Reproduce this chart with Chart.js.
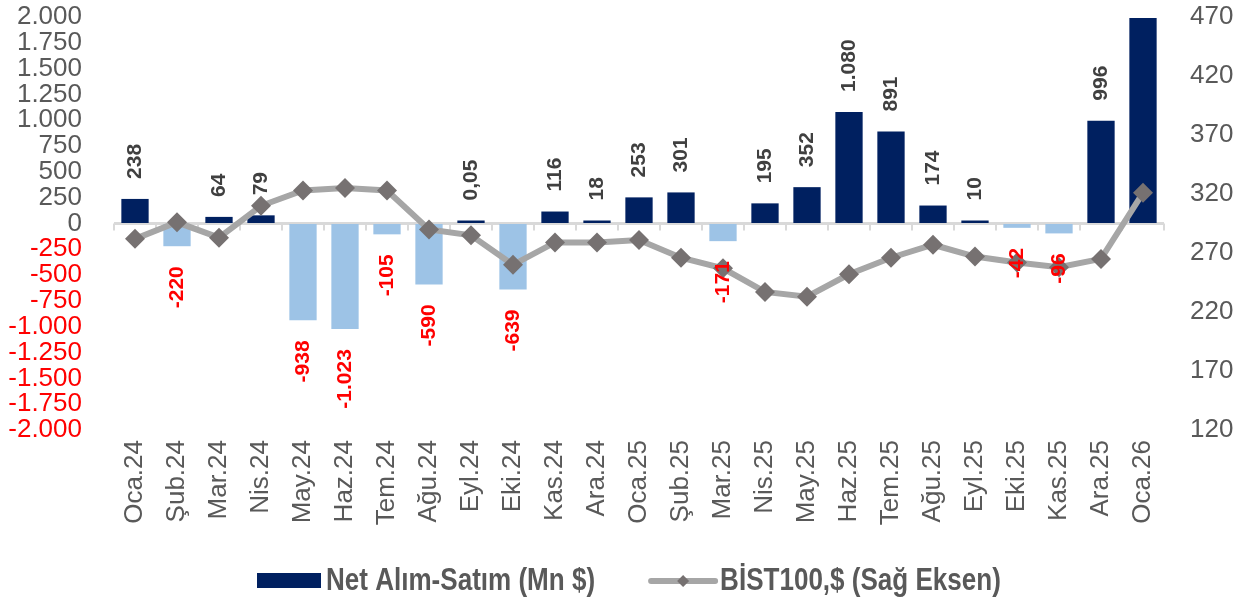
<!DOCTYPE html>
<html lang="tr">
<head>
<meta charset="utf-8">
<title>Net Alım-Satım ve BİST100</title>
<script src="https://cdn.jsdelivr.net/npm/chart.js@4.4.1/dist/chart.umd.min.js"></script>
<style>
  html, body { margin: 0; padding: 0; background: #fff; }
</style>
</head>
<body>
<canvas id="grafik" width="1258" height="598"></canvas>
<script>
// Aylar ve seriler
const aylar = ['Oca.24', 'Şub.24', 'Mar.24', 'Nis.24', 'May.24', 'Haz.24', 'Tem.24', 'Ağu.24',
  'Eyl.24', 'Eki.24', 'Kas.24', 'Ara.24', 'Oca.25', 'Şub.25', 'Mar.25', 'Nis.25', 'May.25',
  'Haz.25', 'Tem.25', 'Ağu.25', 'Eyl.25', 'Eki.25', 'Kas.25', 'Ara.25', 'Oca.26'];
const netAlimSatim = [238, -220, 64, 79, -938, -1023, -105, -590, 0.05, -639, 116, 18, 253, 301,
  -171, 195, 352, 1080, 891, 174, 10, -42, -96, 996, 1990];
const bist100Usd = [282, 296, 283, 310, 323, 325, 323, 290, 285, 260, 279, 279, 281, 266,
  257, 237, 233, 252, 266, 277, 267, 262, 258, 265, 321];

// Eksen etiketleri
const solEksen = [-2000, -1750, -1500, -1250, -1000, -750, -500, -250, 0, 250, 500, 750, 1000,
  1250, 1500, 1750, 2000];
const sagEksen = [120, 170, 220, 270, 320, 370, 420, 470];

const LACIVERT = '#002060';
const ACIK_MAVI = '#9DC3E6';
const GRI_YAZI = '#595959';
const KIRMIZI = '#FF0000';
const FONT = '"Liberation Sans", Arial, sans-serif';

Chart.defaults.font.family = FONT;

// 1.080 / -1.023 / 0,05 gibi
function trSayi(v) {
  const abs = Math.abs(v);
  let s;
  if (Number.isInteger(abs)) s = String(abs).replace(/\B(?=(\d{3})+(?!\d))/g, '.');
  else s = abs.toFixed(2).replace('.', ',');
  return (v < 0 ? '-' : '') + s;
}

// Sifir cizgisi + kategori tikleri
const sifirCizgisi = {
  id: 'sifirCizgisi',
  beforeDatasetsDraw(chart) {
    const { ctx, chartArea, scales } = chart;
    const y0 = scales.y.getPixelForValue(0);
    const adim = (chartArea.right - chartArea.left) / aylar.length;
    ctx.save();
    ctx.strokeStyle = '#D9D9D9';
    ctx.lineWidth = 3;
    ctx.beginPath();
    ctx.moveTo(chartArea.left, y0);
    ctx.lineTo(chartArea.right, y0);
    ctx.stroke();
    ctx.lineWidth = 2;
    for (let i = 0; i <= aylar.length; i++) {
      const x = Math.round(chartArea.left + i * adim);
      ctx.beginPath();
      ctx.moveTo(x, y0);
      ctx.lineTo(x, y0 + 7);
      ctx.stroke();
    }
    ctx.restore();
  }
};

// Dikey veri etiketleri
const etiketler = {
  id: 'etiketler',
  afterDatasetsDraw(chart) {
    const { ctx } = chart;
    const meta = chart.getDatasetMeta(0);
    ctx.save();
    ctx.font = 'bold 21px ' + FONT;
    ctx.textBaseline = 'middle';
    meta.data.forEach((bar, i) => {
      const v = netAlimSatim[i];
      ctx.save();
      if (v >= 0) {
        ctx.translate(bar.x, bar.y - 20);
        ctx.rotate(-Math.PI / 2);
        ctx.textAlign = 'left';
        ctx.fillStyle = '#404040';
      } else {
        ctx.translate(bar.x, bar.y + 20);
        ctx.rotate(-Math.PI / 2);
        ctx.textAlign = 'right';
        ctx.fillStyle = KIRMIZI;
      }
      ctx.fillText(trSayi(v), 0, 0);
      ctx.restore();
    });
    ctx.restore();
  }
};

// Alt gosterge (dar kalin yazi -> yatayda sikistirilmis)
const gosterge = {
  id: 'gosterge',
  afterDraw(chart) {
    const { ctx, width } = chart;
    const t1 = chart.data.datasets[0].label;
    const t2 = chart.data.datasets[1].label;
    const sx = 0.84;
    ctx.save();
    ctx.font = 'bold 31px ' + FONT;
    ctx.textBaseline = 'middle';
    ctx.textAlign = 'left';
    const w1 = ctx.measureText(t1).width * sx;
    const w2 = ctx.measureText(t2).width * sx;
    const toplam = 64 + 5 + w1 + 53 + 70 + 2 + w2;
    let x = Math.round((width - toplam) / 2);
    const y = 581;

    ctx.fillStyle = LACIVERT;
    ctx.fillRect(x, y - 8, 64, 15);
    x += 69;

    const yaz = (t, px) => {
      ctx.save();
      ctx.translate(px, y);
      ctx.scale(sx, 1);
      ctx.fillStyle = GRI_YAZI;
      ctx.fillText(t, 0, 0);
      ctx.restore();
    };
    yaz(t1, x);
    x += w1 + 53;

    ctx.strokeStyle = '#A6A6A6';
    ctx.lineWidth = 6;
    ctx.lineCap = 'round';
    ctx.beginPath();
    ctx.moveTo(x + 3, y);
    ctx.lineTo(x + 67, y);
    ctx.stroke();
    ctx.fillStyle = '#767171';
    ctx.beginPath();
    ctx.moveTo(x + 35, y - 6);
    ctx.lineTo(x + 41, y);
    ctx.lineTo(x + 35, y + 6);
    ctx.lineTo(x + 29, y);
    ctx.closePath();
    ctx.fill();
    x += 72;

    yaz(t2, x);
    ctx.restore();
  }
};

new Chart(document.getElementById('grafik'), {
  type: 'bar',
  data: {
    labels: aylar,
    datasets: [
      {
        type: 'bar',
        label: 'Net Alım-Satım (Mn $)',
        data: netAlimSatim,
        yAxisID: 'y',
        backgroundColor: netAlimSatim.map(v => (v < 0 ? ACIK_MAVI : LACIVERT)),
        barPercentage: 0.65,
        categoryPercentage: 1,
        minBarLength: 3,
        order: 2
      },
      {
        type: 'line',
        label: 'BİST100,$ (Sağ Eksen)',
        data: bist100Usd,
        yAxisID: 'y1',
        borderColor: '#A6A6A6',
        borderWidth: 6,
        tension: 0,
        pointStyle: 'rectRot',
        pointRadius: 10,
        pointBackgroundColor: '#767171',
        pointBorderColor: '#767171',
        pointBorderWidth: 0,
        order: 1
      }
    ]
  },
  options: {
    responsive: false,
    animation: false,
    devicePixelRatio: 1,
    layout: { padding: { top: 17, left: 0, right: 0, bottom: 0 } },
    plugins: {
      legend: { display: false },
      tooltip: { enabled: false }
    },
    scales: {
      x: {
        grid: { display: false, drawTicks: false },
        border: { display: false },
        ticks: {
          color: GRI_YAZI,
          font: { size: 26 },
          minRotation: 90,
          maxRotation: 90,
          autoSkip: false,
          padding: 10
        },
        afterFit: s => { s.height = 168; }
      },
      y: {
        position: 'left',
        min: -2000,
        max: 2000,
        afterBuildTicks: s => { s.ticks = solEksen.map(v => ({ value: v })); },
        // seffaf tik cizgisi etiketi eksenden uzaklastiriyor (padding dikeyde de bosluk aciyor)
        grid: { display: true, color: 'rgba(0,0,0,0)', drawOnChartArea: false, drawTicks: true, tickLength: 32 },
        border: { display: false },
        ticks: {
          autoSkip: false,
          padding: 0,
          font: { size: 26 },
          color: c => (c.tick && c.tick.value < 0 ? KIRMIZI : GRI_YAZI),
          callback: v => trSayi(v)
        },
        afterFit: s => { s.width = 114; }
      },
      y1: {
        position: 'right',
        min: 120,
        max: 470,
        afterBuildTicks: s => { s.ticks = sagEksen.map(v => ({ value: v })); },
        grid: { display: true, color: 'rgba(0,0,0,0)', drawOnChartArea: false, drawTicks: true, tickLength: 26 },
        border: { display: false },
        ticks: {
          autoSkip: false,
          padding: 0,
          font: { size: 26 },
          color: GRI_YAZI
        },
        afterFit: s => { s.width = 94; }
      }
    }
  },
  plugins: [sifirCizgisi, etiketler, gosterge]
});
</script>
</body>
</html>
